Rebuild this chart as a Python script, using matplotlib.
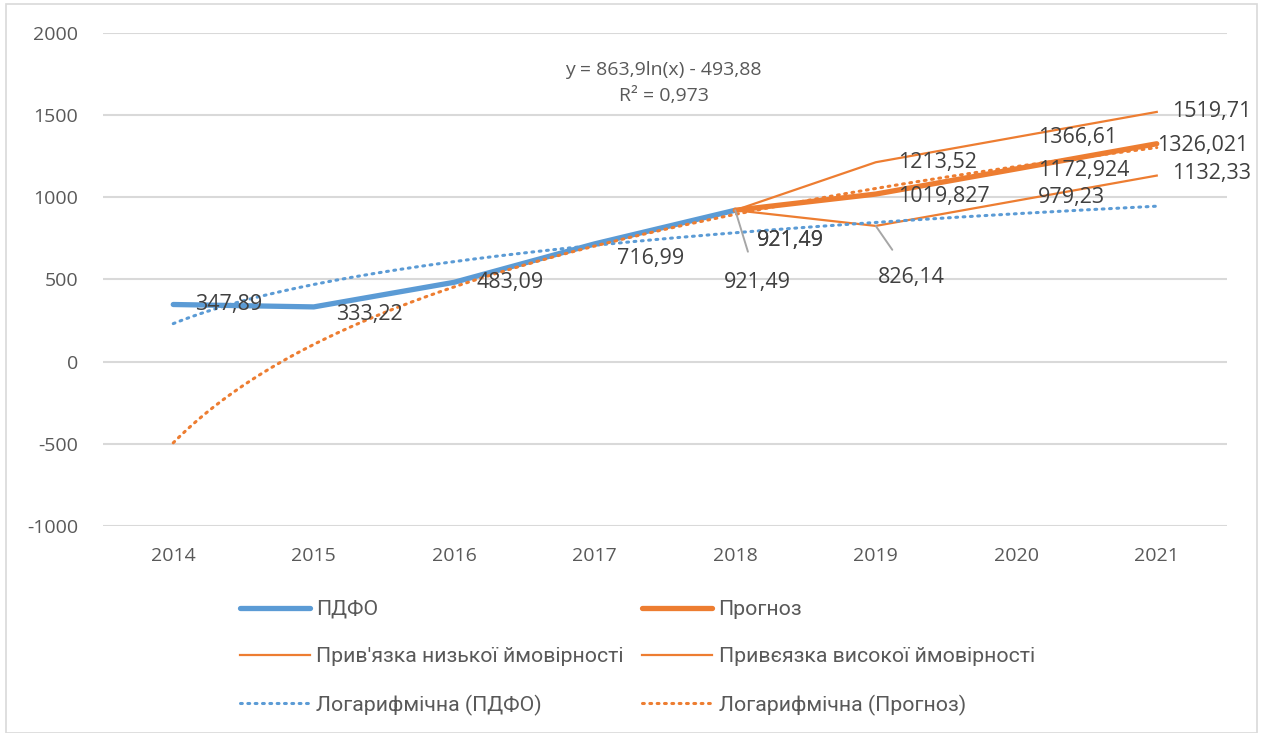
import numpy as np
import matplotlib
matplotlib.use("Agg")
import matplotlib.pyplot as plt
from matplotlib.patches import Rectangle

# ---- data ----
years = [2014, 2015, 2016, 2017, 2018, 2019, 2020, 2021]
pdfo_years = [2014, 2015, 2016, 2017, 2018]
pdfo = [347.89, 333.22, 483.09, 716.99, 921.49]
fc_years = [2018, 2019, 2020, 2021]
forecast = [921.49, 1019.827, 1172.924, 1326.021]
low = [921.49, 826.14, 979.23, 1132.33]
high = [921.49, 1213.52, 1366.61, 1519.71]
trend_fc_a, trend_fc_b = 863.9, -493.88
eq_text = "y = 863,9ln(x) - 493,88"
r2_text = "R² = 0,973"
yticks = [-1000, -500, 0, 500, 1000, 1500, 2000]
labels_legend = ["ПДФО", "Прогноз", "Прив'язка низької ймовірності",
                 "Привєязка високої ймовірності", "Логарифмічна (ПДФО)",
                 "Логарифмічна (Прогноз)"]

BLUE = "#5B9BD5"
ORANGE = "#ED7D31"
TXT = "#595959"
LBL = "#404040"
GRID = "#D9D9D9"

W, H = 1267, 733
fig = plt.figure(figsize=(W / 100, H / 100), dpi=100)
fig.patches.append(Rectangle((6 / W, 0), (1257 - 6) / W, 1 - 4 / H,
                             transform=fig.transFigure, fill=False,
                             edgecolor=GRID, lw=1.2))
ax = fig.add_axes([103 / W, 1 - 526 / H, (1227 - 103) / W, (526 - 33) / H])
ax.set_xlim(2013.5, 2021.5)
ax.set_ylim(-1000, 2000)
for s in ax.spines.values():
    s.set_visible(False)
ax.set_yticks(yticks)
ax.set_yticklabels([str(v) for v in yticks])
ax.set_xticks(years)
ax.set_xticklabels([str(y) for y in years])
ax.tick_params(length=0, labelsize=14, labelcolor=TXT)
for lab in ax.get_xticklabels() + ax.get_yticklabels():
    lab.set_family(["Open Sans", "DejaVu Sans"])
ax.tick_params(axis="x", pad=15)
ax.tick_params(axis="y", pad=18)
ax.grid(axis="y", color=GRID, lw=1.5)
ax.set_axisbelow(True)

# series
l_pdfo, = ax.plot(pdfo_years, pdfo, color=BLUE, lw=3.8, solid_capstyle="round",
                  solid_joinstyle="round", zorder=3)
l_fc, = ax.plot(fc_years, forecast, color=ORANGE, lw=3.8, solid_capstyle="round",
                zorder=3)
l_low, = ax.plot(fc_years, low, color=ORANGE, lw=1.6, zorder=3)
l_high, = ax.plot(fc_years, high, color=ORANGE, lw=1.6, zorder=3)

# trendlines
t = np.linspace(1, len(years), 300)
xt = years[0] - 1 + t
a_b, b_b = np.polyfit(np.log(np.arange(1, len(pdfo) + 1)), pdfo, 1)
dots = (0, (0.6, 1.8))
l_tb, = ax.plot(xt, a_b * np.log(t) + b_b, color=BLUE, lw=2.2, ls=dots,
                dash_capstyle="round", zorder=4)
l_to, = ax.plot(xt, trend_fc_a * np.log(t) + trend_fc_b, color=ORANGE, lw=2.2,
                ls=dots, dash_capstyle="round", zorder=4)

ax.text(2017.49, 1695, eq_text + "\n" + r2_text, ha="center", va="center",
        fontsize=14, color=TXT, family=["Open Sans", "DejaVu Sans"],
        linespacing=1.55)

# data labels
def fmt(v):
    s = ("%.3f" % v).rstrip("0").rstrip(".")
    return s.replace(".", ",")

fs = 15.5
fam = ["Open Sans", "DejaVu Sans"]
for x, v in zip(pdfo_years[:4], pdfo[:4]):
    off = {2014: 0, 2015: -8, 2016: 0, 2017: -15}[x]
    ax.annotate(fmt(v), (x, v), xytext=(22, off), textcoords="offset pixels",
                ha="left", va="center", fontsize=fs, color=LBL, family=fam, zorder=5)
# overlapping labels at 2018
for _ in range(2):
    ax.annotate(fmt(pdfo[4]), (2018, pdfo[4]), xytext=(22, -30),
                textcoords="offset pixels", ha="left", va="center",
                fontsize=fs, color=LBL, family=fam, zorder=5)
# leader labels
ax.annotate(fmt(low[0]), (2018, low[0]), xytext=(22, -72), textcoords="offset pixels",
            ha="center", va="center", fontsize=fs, color=LBL, family=fam, zorder=5,
            arrowprops=dict(arrowstyle="-", color="#A6A6A6", lw=1.4,
                            shrinkA=13, shrinkB=0))
ax.annotate(fmt(low[1]), (2019, low[1]), xytext=(36, -52), textcoords="offset pixels",
            ha="center", va="center", fontsize=fs, color=LBL, family=fam, zorder=5,
            arrowprops=dict(arrowstyle="-", color="#A6A6A6", lw=1.4,
                            shrinkA=13, shrinkB=0))
# right-side labels for forecast lines
for i in range(1, 4):
    x = fc_years[i]
    ox = 15 if x == 2021 else 22
    ax.annotate(fmt(high[i]), (x, high[i]), xytext=(ox, 0), textcoords="offset pixels",
                ha="left", va="center", fontsize=fs, color=LBL, family=fam, zorder=5)
    ax.annotate(fmt(forecast[i]), (x, forecast[i]), xytext=(0 if x == 2021 else 22, -2),
                textcoords="offset pixels", ha="left", va="center", fontsize=fs,
                color=LBL, family=fam, zorder=5)
    if i >= 2:
        ax.annotate(fmt(low[i]), (x, low[i]), xytext=(ox, 2 if x == 2021 else 3),
                    textcoords="offset pixels", ha="left", va="center", fontsize=fs,
                    color=LBL, family=fam, zorder=5)

handles = [l_pdfo, l_low, l_tb, l_fc, l_high, l_to]
hl = [labels_legend[0], labels_legend[2], labels_legend[4],
      labels_legend[1], labels_legend[3], labels_legend[5]]
leg = fig.legend(handles, hl, ncol=2, loc="upper left",
                 bbox_to_anchor=(240 / W, 1 - 600 / H), frameon=False,
                 prop={"family": ["Roboto", "DejaVu Sans"], "size": 15.3},
                 handlelength=3.3, handletextpad=0.3, columnspacing=0.85,
                 labelspacing=1.33, borderpad=0, borderaxespad=0)
for txt in leg.get_texts():
    txt.set_color(TXT)

fig.savefig("out.png", dpi=100)
